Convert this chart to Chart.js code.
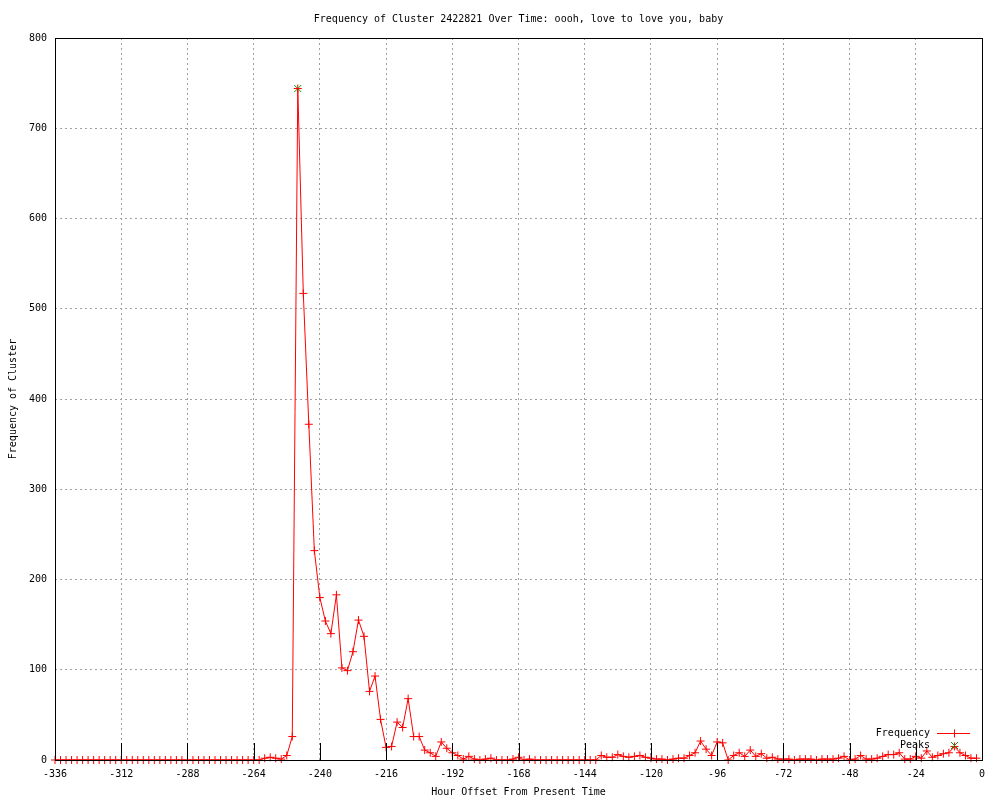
<!DOCTYPE html>
<html>
<head>
<meta charset="utf-8">
<title>Frequency of Cluster 2422821 Over Time</title>
<script src="https://cdn.jsdelivr.net/npm/chart.js@4.4.0/dist/chart.umd.min.js"></script>
<style>
  html, body { margin: 0; padding: 0; background: #fff; }
  #wrap { width: 1000px; height: 800px; }
</style>
</head>
<body>
<div id="wrap"><canvas id="clusterChart"></canvas></div>
<script>
// hora relativa al presente (cada 2 horas)
const hours = [
  -336, -334, -332, -330, -328, -326, -324, -322, -320, -318,
  -316, -314, -312, -310, -308, -306, -304, -302, -300, -298,
  -296, -294, -292, -290, -288, -286, -284, -282, -280, -278,
  -276, -274, -272, -270, -268, -266, -264, -262,
  -260, -258, -256, -254, -252, -250, -248, -246, -244, -242,
  -240, -238, -236, -234, -232, -230, -228, -226, -224, -222,
  -220, -218, -216, -214, -212, -210, -208, -206, -204, -202,
  -200, -198, -196, -194, -192, -190, -188, -186, -184, -182,
  -180, -178, -176, -174, -172, -170, -168, -166, -164, -162,
  -160, -158, -156, -154, -152, -150, -148, -146, -144, -142,
  -140, -138, -136, -134, -132, -130, -128, -126, -124, -122,
  -120, -118, -116, -114, -112, -110, -108, -106, -104, -102,
  -100, -98, -96, -94, -92, -90, -88, -86, -84, -82,
  -80, -78, -76, -74, -72, -70, -68, -66, -64, -62,
  -60, -58, -56, -54, -52, -50, -48, -46, -44, -42,
  -40, -38, -36, -34, -32, -30, -28, -26, -24, -22,
  -20, -18, -16, -14, -12, -10, -8, -6, -4, -2
];

const frequency = [
  0, 0, 0, 0, 0, 0, 0, 0, 0, 0,
  0, 0, 0, 0, 0, 0, 0, 0, 0, 0,
  0, 0, 0, 0, 0, 0, 0, 0, 0, 0,
  0, 0, 0, 0, 0, 0, 0, 0,
  2, 3, 2, 1, 5, 26, 744, 517, 372, 232,
  180, 154, 140, 183, 102, 99, 120, 155, 137, 76,
  93, 45, 14, 15, 42, 36, 68, 26, 26, 11,
  8, 4, 20, 13, 8, 5, 1, 4, 1, 0,
  1, 2, 0, 0, 0, 1, 3, 0, 1, 0,
  0, 0, 0, 0, 0, 0, 0, 0, 0, 0,
  0, 5, 3, 3, 6, 4, 3, 4, 5, 3,
  2, 1, 1, 0, 1, 2, 2, 5, 8, 21,
  12, 5, 20, 19, 0, 5, 8, 4, 11, 4,
  7, 2, 3, 1, 1, 1, 0, 1, 1, 1,
  0, 1, 1, 1, 2, 4, 0, 1, 5, 1,
  1, 2, 4, 6, 6, 8, 1, 1, 4, 2,
  10, 3, 5, 7, 8, 15, 8, 5, 2, 2
];

const peakHours = [-248];
const peakValues = [744];

const xTicks = [-336, -312, -288, -264, -240, -216, -192, -168, -144, -120, -96, -72, -48, -24, 0];
const yTicks = [0, 100, 200, 300, 400, 500, 600, 700, 800];

const TITULO = 'Frequency of Cluster 2422821 Over Time: oooh, love to love you, baby';
const FUENTE = '"DejaVu Sans Mono", "Liberation Mono", monospace';

// titulo, marco, marcas del eje x y leyenda al estilo gnuplot
const marcoGnuplot = {
  id: 'marcoGnuplot',
  afterDatasetsDraw(chart) {
    const ctx = chart.ctx;
    const area = chart.chartArea;
    const x = chart.scales.x;
    ctx.save();

    // titulo centrado sobre el area del grafico
    ctx.font = '10px ' + FUENTE;
    ctx.fillStyle = '#000';
    ctx.textAlign = 'center';
    ctx.textBaseline = 'middle';
    ctx.fillText(TITULO, (area.left + area.right) / 2, area.top - 19);

    ctx.strokeStyle = '#000';
    ctx.lineWidth = 1;
    ctx.beginPath();
    xTicks.forEach(function (v) {
      const px = Math.round(x.getPixelForValue(v)) + 0.5;
      ctx.moveTo(px, area.bottom);
      ctx.lineTo(px, area.bottom - 17);
    });
    ctx.stroke();
    ctx.strokeRect(Math.round(area.left) + 0.5, Math.round(area.top) + 0.5,
      Math.round(area.right - area.left), Math.round(area.bottom - area.top));

    // leyenda
    const textoX = area.right - 52;
    const muestraX1 = area.right - 45;
    const muestraX2 = area.right - 12;
    const centro = Math.round((muestraX1 + muestraX2) / 2) + 0.5;
    const fila1 = Math.round(area.bottom - 27) + 0.5;
    const fila2 = Math.round(area.bottom - 15) + 0.5;
    ctx.textAlign = 'right';
    ctx.fillText('Frequency', textoX, fila1);
    ctx.fillText('Peaks', textoX, fila2);
    ctx.strokeStyle = '#ff0000';
    ctx.beginPath();
    ctx.moveTo(muestraX1, fila1);
    ctx.lineTo(muestraX2, fila1);
    ctx.moveTo(centro, fila1 - 4);
    ctx.lineTo(centro, fila1 + 4);
    ctx.stroke();
    ctx.strokeStyle = '#00a000';
    ctx.beginPath();
    ctx.moveTo(centro - 3.5, fila2 - 3.5);
    ctx.lineTo(centro + 3.5, fila2 + 3.5);
    ctx.moveTo(centro + 3.5, fila2 - 3.5);
    ctx.lineTo(centro - 3.5, fila2 + 3.5);
    ctx.stroke();
    ctx.restore();
  }
};

const ctx = document.getElementById('clusterChart').getContext('2d');
new Chart(ctx, {
  type: 'line',
  data: {
    datasets: [{
      label: 'Frequency',
      data: hours.map((h, i) => ({ x: h, y: frequency[i] })),
      borderColor: '#ff0000',
      backgroundColor: '#ff0000',
      borderWidth: 1,
      pointStyle: 'cross',
      pointRadius: 4,
      pointBorderWidth: 1,
      pointBorderColor: '#ff0000',
      pointHoverRadius: 4,
      tension: 0,
      fill: false,
      clip: false
    }, {
      label: 'Peaks',
      data: peakHours.map((h, i) => ({ x: h, y: peakValues[i] })),
      showLine: false,
      borderColor: '#00a000',
      backgroundColor: '#00a000',
      pointStyle: 'crossRot',
      pointRadius: 5,
      pointBorderWidth: 1,
      clip: false
    }]
  },
  options: {
    responsive: true,
    maintainAspectRatio: false,
    animation: false,
    layout: { padding: { left: 0, right: 18, top: 38, bottom: 0 } },
    scales: {
      x: {
        type: 'linear',
        min: -336,
        max: 0,
        afterBuildTicks: function (scale) {
          scale.ticks = xTicks.map(v => ({ value: v }));
        },
        afterFit: function (scale) { scale.height = 40; },
        grid: { color: '#a0a0a0', lineWidth: 1, drawTicks: false },
        border: { display: false, dash: [2, 3] },
        ticks: {
          autoSkip: false,
          maxRotation: 0,
          padding: 8,
          color: '#000',
          font: { family: FUENTE, size: 10 },
          callback: v => String(v)
        },
        title: {
          display: true,
          text: 'Hour Offset From Present Time',
          color: '#000',
          font: { family: FUENTE, size: 10 },
          padding: { top: 0, bottom: 2 }
        }
      },
      y: {
        min: 0,
        max: 800,
        afterBuildTicks: function (scale) {
          scale.ticks = yTicks.map(v => ({ value: v }));
        },
        afterFit: function (scale) { scale.width = 55; },
        grid: { color: '#a0a0a0', lineWidth: 1, drawTicks: false },
        border: { display: false, dash: [2, 3] },
        ticks: {
          padding: 8,
          color: '#000',
          font: { family: FUENTE, size: 10 },
          callback: v => String(v)
        },
        title: {
          display: true,
          text: 'Frequency of Cluster',
          color: '#000',
          font: { family: FUENTE, size: 10 },
          padding: { top: 7, bottom: 0 }
        }
      }
    },
    plugins: {
      legend: { display: false },
      tooltip: { enabled: false },
      title: { display: false }
    }
  },
  plugins: [marcoGnuplot]
});
</script>
</body>
</html>
